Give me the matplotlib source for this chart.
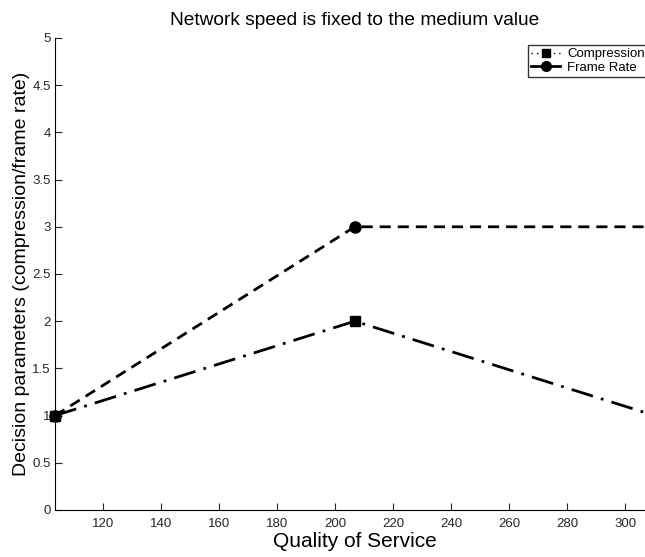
import matplotlib
matplotlib.use("Agg")
import matplotlib.pyplot as plt
from matplotlib.lines import Line2D

plt.rcParams['font.family'] = ['Liberation Sans', 'DejaVu Sans']

# data
qos = [103.4, 206.8, 310.2]
compression = [1, 2, 1]
frame_rate = [1, 3, 3]

yticks = [0, 0.5, 1, 1.5, 2, 2.5, 3, 3.5, 4, 4.5, 5]
xticks = [120, 140, 160, 180, 200, 220, 240, 260, 280, 300]

fig = plt.figure(figsize=(6.45, 5.57), dpi=100)
ax = fig.add_axes([0.0853, 0.0844, 0.9296, 0.8474])

ax.plot(qos, compression, color="black", linestyle=(0, (8, 3, 1, 3)), linewidth=2,
        marker="s", markersize=7, clip_on=False)
ax.plot(qos, frame_rate, color="black", linestyle=(0, (4, 2.5)), linewidth=2,
        marker="o", markersize=8, clip_on=False)

ax.set_xlim(qos[0], qos[-1])
ax.set_ylim(0, 5)
ax.set_xticks(xticks)
ax.set_yticks(yticks)
ax.set_yticklabels(["0", "0.5", "1", "1.5", "2", "2.5", "3", "3.5", "4", "4.5", "5"])
ax.tick_params(direction="in", length=5, labelsize=9.5, color="#262626", labelcolor="#262626")
ax.tick_params(axis="x", pad=6)
ax.tick_params(axis="y", pad=3)

ax.spines["top"].set_visible(False)
ax.spines["right"].set_visible(False)

ax.set_title("Network speed is fixed to the medium value", fontsize=13.8, pad=9)
ax.set_xlabel("Quality of Service", fontsize=15, labelpad=1)
ax.set_ylabel("Decision parameters (compression/frame rate)", fontsize=14, labelpad=2)

handles = [
    Line2D([], [], color="black", linestyle=(0, (1, 3)), linewidth=1, marker="s", markersize=6),
    Line2D([], [], color="black", linestyle="-", linewidth=2, marker="o", markersize=7),
]
leg = ax.legend(handles, ["Compression", "Frame Rate"], loc="upper right",
                fontsize=9.5, frameon=True, fancybox=False, handlelength=2.2,
                borderpad=0.25, labelspacing=0.1, handletextpad=0.5,
                borderaxespad=0.5)
leg.get_frame().set_edgecolor("black")
leg.get_frame().set_linewidth(1)

fig.savefig("out.png", dpi=100)
